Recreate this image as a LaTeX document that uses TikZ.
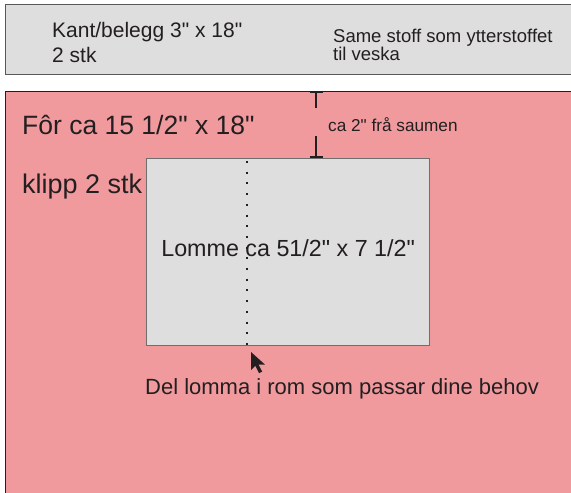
\documentclass[tikz,border=0pt]{standalone}
\usepackage{fontspec}
\setmainfont{Liberation Sans}[Ligatures=TeXOff]
\usetikzlibrary{arrows.meta, positioning, calc}
\definecolor{liningpink}{RGB}{240,154,158}
\definecolor{pocketgray}{RGB}{222,222,222}
\definecolor{ink}{RGB}{35,31,32}

\begin{document}
\begin{tikzpicture}[
    x=1pt, y=-1pt,
    piece/.style={rectangle, draw=ink!75, line width=1.2pt, anchor=north west, inner sep=0pt},
    label/.style={text=ink, inner sep=0pt, anchor=base west},
    dim/.style={draw=ink, line width=2pt},
    fold/.style={draw=ink, line width=2pt, dash pattern=on 2pt off 8.7pt}
]
\useasboundingbox[fill=white] (0,0) rectangle (571,493);

% Pieces
\node[piece, fill=pocketgray, minimum width=600, minimum height=70] (band) at (5,4) {};
\node[piece, fill=liningpink, draw=ink, minimum width=600, minimum height=420] (lining) at (5,91) {};
\node[piece, fill=pocketgray, draw=ink!65, minimum width=283, minimum height=187] (pocket) at (146,158) {};

% Band texts
\node[label, font=\fontsize{21}{25}\selectfont] (kant) at (52,37) {Kant/belegg 3" x 18"};
\node[label, font=\fontsize{21}{25}\selectfont] (kantqty) at ([yshift=-25pt]kant.base west) {2 stk};
\node[label, font=\fontsize{18.5}{19}\selectfont] (same) at (333,42) {Same stoff som ytterstoffet};
\node[label, font=\fontsize{18.5}{19}\selectfont] (veska) at ([yshift=-18pt]same.base west) {til veska};

% Lining texts
\node[label, font=\fontsize{26.5}{30}\selectfont] (lintext) at (22,134) {Fôr ca 15 1/2" x 18"};
\node[label, font=\fontsize{27}{30}\selectfont] (linqty) at (22,193) {klipp 2 stk};
\node[label, font=\fontsize{17.2}{19}\selectfont] (gap) at (328,131) {ca 2" frå saumen};

% Seam distance
\coordinate (dimx) at (316,0);
\draw[dim, {Bar[width=13pt]}-] (lining.north -| dimx) -- ++(0,17);
\draw[dim, -{Bar[width=13pt]}] ($(pocket.north -| dimx)+(0,-22)$) -- (pocket.north -| dimx);

% Pocket
\coordinate (foldx) at (247,0);
\draw[fold] ($(pocket.north -| foldx)+(0,3)$) -- (pocket.south -| foldx);
\node[label, anchor=base, font=\fontsize{23.3}{27}\selectfont] (pockettext) at ([yshift=-4.5pt]pocket.center) {Lomme ca 51/2" x 7 1/2"};

% Pointer
\coordinate (cursor) at (251,352);
\fill[ink] (cursor) -- ++(0,18) -- ++(4.3,-4.3) -- ++(3.7,7.5) -- ++(3.2,-1.6) -- ++(-3.7,-7) -- ++(6.5,0) -- cycle;
\node[label, font=\fontsize{22}{26}\selectfont] (divide) at (145,394) {Del lomma i rom som passar dine behov};

\end{tikzpicture}
\end{document}
